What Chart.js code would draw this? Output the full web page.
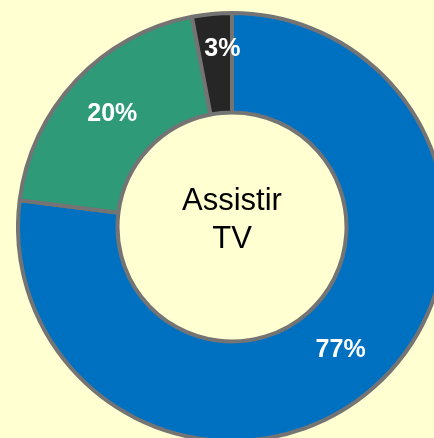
<!DOCTYPE html>
<html><head><meta charset="utf-8">
<script src="https://cdn.jsdelivr.net/npm/chart.js@4.4.0/dist/chart.umd.min.js"></script>
<style>
html,body{margin:0;padding:0;width:434px;height:438px;overflow:hidden;background:#FFFFD1;}
#wrap{position:absolute;left:16px;top:11px;width:432px;height:432px;}
</style></head><body>
<div id="wrap"><canvas id="c" width="432" height="432"></canvas></div>
<script>
const categories = ["Assistir TV", "Outro", "Não sabe"];
const values = [77, 20, 3];
const valueLabels = ["77%", "20%", "3%"];
const centerTitle = ["Assistir", "TV"];
const colors = ["#0070C0", "#2E9A77", "#262626"];

const labelPlugin = {
  id: 'labels',
  afterDatasetsDraw(chart) {
    const ctx = chart.ctx;
    const meta = chart.getDatasetMeta(0);
    ctx.save();
    ctx.fillStyle = '#FFFFFF';
    ctx.font = 'bold 25px "Liberation Sans", Arial, sans-serif';
    ctx.textAlign = 'center';
    ctx.textBaseline = 'middle';
    meta.data.forEach((arc, i) => {
      const p = arc.getProps(['x','y','startAngle','endAngle','innerRadius','outerRadius'], true);
      const mid = (p.startAngle + p.endAngle) / 2;
      let r = (p.innerRadius + p.outerRadius) / 2;
      let ang = mid;
      if (values[i] < 5) { r = p.outerRadius - 36; ang = mid + 0.04; }
      ctx.fillText(valueLabels[i], p.x + Math.cos(ang) * r, p.y + Math.sin(ang) * r);
    });
    const a = meta.data[0];
    ctx.fillStyle = '#000000';
    ctx.font = '31px "Liberation Sans", Arial, sans-serif';
    ctx.textBaseline = 'alphabetic';
    ctx.fillText(centerTitle[0], a.x, a.y - 17);
    ctx.fillText(centerTitle[1], a.x, a.y + 21);
    ctx.restore();
  }
};

new Chart(document.getElementById('c'), {
  type: 'doughnut',
  data: {
    labels: categories,
    datasets: [{
      data: values,
      backgroundColor: colors,
      borderColor: '#747474',
      borderWidth: 4,
      hoverOffset: 0
    }]
  },
  options: {
    responsive: false,
    animation: false,
    cutout: '53.5%',
    layout: { padding: 0 },
    plugins: { legend: { display: false }, tooltip: { enabled: false } }
  },
  plugins: [labelPlugin]
});
</script>
</body></html>
